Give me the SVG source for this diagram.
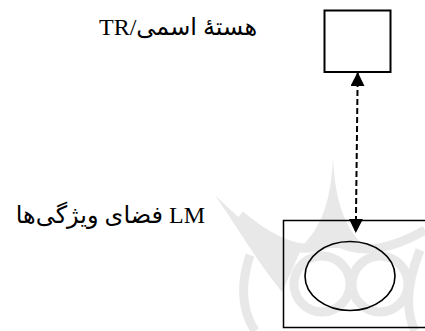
<svg xmlns="http://www.w3.org/2000/svg" width="425" height="331" viewBox="0 0 425 331">
<style>
.lbl{font-family:"Liberation Serif","DejaVu Sans",serif;font-size:24px;fill:#000}
.box{fill:none;stroke:#000}
.wm{fill:#e8e8e8;stroke:none}
.wmr{fill:none;stroke:#e8e8e8;stroke-width:9}
</style>
<defs>
<marker id="ah" viewBox="0 0 14 14" refX="14" refY="7" markerWidth="14" markerHeight="14" markerUnits="userSpaceOnUse" orient="auto-start-reverse">
<path d="M0,0 L14,7 L0,14 z" fill="#000"/>
</marker>
</defs>
<rect width="425" height="331" fill="#fff"/>
<g id="watermark">
<path class="wm" d="M333,158 C331,200 322,228 300,248 L366,248 C344,228 335,200 333,158 Z"/>
<path class="wm" d="M215,195 C245,225 268,242 300,252 L282,292 C258,262 240,232 215,195 Z"/>
<path class="wmr" d="M240,215 Q300,265 333,240 Q370,262 425,230"/>
<circle class="wmr" cx="322" cy="284" r="28"/>
<circle class="wmr" cx="380" cy="284" r="28"/>
<path class="wmr" d="M250,255 Q235,300 255,331"/>
<path class="wmr" d="M420,250 Q400,300 415,331"/>
</g>
<g id="connectors">
<line x1="357.7" y1="72" x2="355.8" y2="233" stroke="#000" stroke-width="2" stroke-dasharray="6,3" marker-start="url(#ah)" marker-end="url(#ah)"/>
</g>
<g id="node-tr">
<rect class="box" x="324.5" y="10.5" width="66" height="61.5" stroke-width="2"/>
<text class="lbl" x="99" y="35">TR/هستهٔ اسمی</text>
</g>
<g id="node-lm">
<rect class="box" x="283.5" y="220.5" width="150" height="107" stroke-width="1.5"/>
<ellipse class="box" cx="350" cy="276" rx="45" ry="34.5" stroke-width="1.6"/>
<text class="lbl" x="205" y="223" text-anchor="end">فضای ویژگی‌ها LM</text>
</g>
</svg>
